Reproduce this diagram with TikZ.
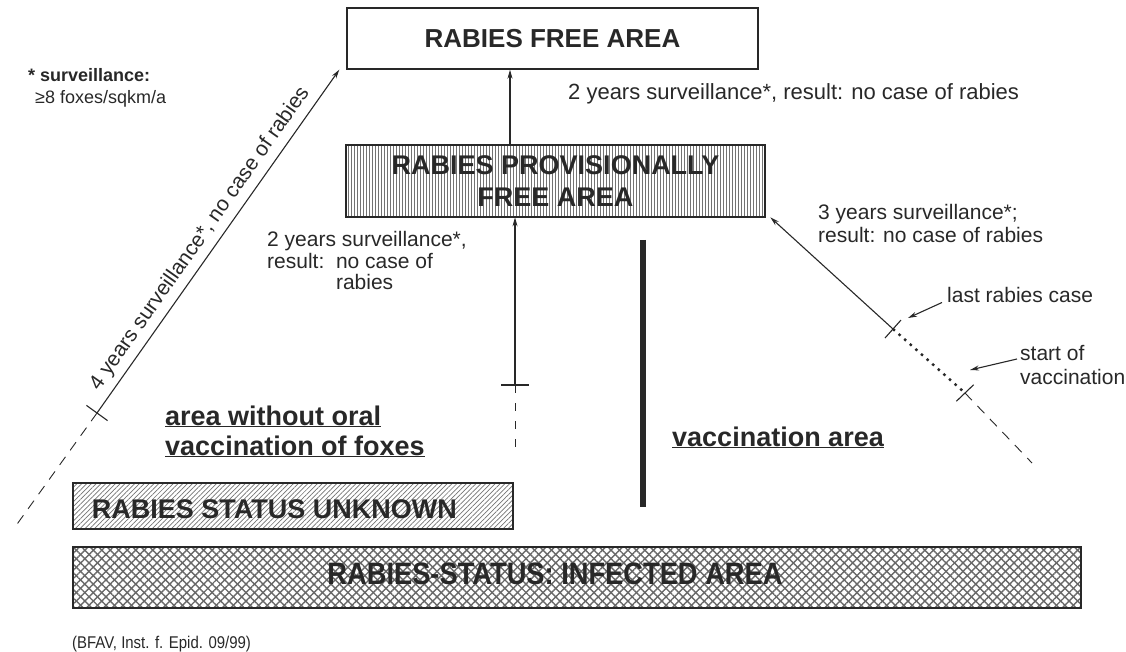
\documentclass[tikz,border=0pt]{standalone}
\usepackage{fontspec}
\setmainfont{Liberation Sans}
\newfontfamily\narrowfont[FakeStretch=0.88]{Liberation Sans}
\usetikzlibrary{arrows.meta,calc,patterns.meta}

\definecolor{RabInk}{RGB}{40,40,40}

\tikzset{
  areabox/.style={draw=RabInk, line width=1.4pt, inner sep=0pt},
  boldlbl/.style={font=\fontsize{27}{30}\selectfont\bfseries, text=RabInk, inner sep=0pt},
  note/.style={font=\fontsize{21}{21.5}\selectfont, text=RabInk, inner sep=0pt},
  arr/.style={-{Stealth[length=9pt,width=5pt]}, line width=1.1pt, draw=RabInk},
  crossmark/.style={line width=1.1pt, draw=RabInk},
  fade/.style={dash pattern=on 10pt off 8pt, line width=0.9pt, draw=RabInk},
}

\begin{document}
\begin{tikzpicture}[x=1pt,y=-1pt]
  \useasboundingbox (0,0) rectangle (1126,652);

  % area boxes
  \node[areabox, minimum width=411pt, minimum height=61pt,
        font=\fontsize{26}{26}\selectfont\bfseries, text=RabInk] (free) at (552.5,38.5) {RABIES FREE AREA};
  \node[areabox, minimum width=419pt, minimum height=72pt, align=center,
        pattern={Lines[angle=90,distance=3pt,line width=0.7pt]}, pattern color=RabInk!65,
        font=\fontsize{27}{32}\selectfont\bfseries, text=RabInk] (prov) at (555.5,181)
        {RABIES PROVISIONALLY\\FREE AREA};
  \node[areabox, minimum width=440pt, minimum height=46pt,
        pattern={Lines[angle=45,distance=3.4pt,line width=0.7pt]}, pattern color=RabInk!65] (unknown) at (293,506) {};
  \node[boldlbl, anchor=west] (unknownTxt) at ([xshift=19pt,yshift=-3pt]unknown.west) {RABIES STATUS UNKNOWN};
  \node[areabox, minimum width=1008pt, minimum height=61pt,
        preaction={pattern={Lines[angle=-45,distance=6pt,line width=1.4pt]}, pattern color=RabInk!70},
        pattern={Lines[angle=45,distance=6pt,line width=1.4pt]}, pattern color=RabInk!70] (infected) at (577,577.5) {};
  \node[font=\narrowfont\fontsize{31}{31}\selectfont\bfseries, text=RabInk, inner sep=0pt] (infectedTxt) at (555,574)
        {RABIES-STATUS: INFECTED AREA};

  % area labels
  \node[boldlbl, anchor=base west] (noVacc) at (165,425) {\underline{area without oral}};
  \node[boldlbl, anchor=base west] (noVaccB) at (165,455) {\underline{vaccination of foxes}};
  \node[boldlbl, anchor=base west] (vaccArea) at (672,446) {\underline{vaccination area}};
  \draw[line width=6pt, RabInk] (643,240) -- (643,507);

  % footnote and source
  \node[anchor=base west, inner sep=0pt, text=RabInk, font=\fontsize{18}{18}\selectfont\bfseries] (starNote) at (28,81.5) {* surveillance:};
  \node[anchor=base west, inner sep=0pt, text=RabInk, font=\fontsize{18}{18}\selectfont] (starNoteB) at (35,103.5) {≥8 foxes/sqkm/a};
  \node[anchor=base west, inner sep=0pt, text=RabInk, font=\narrowfont\fontsize{17}{17}\selectfont] (source) at (72,648) {(BFAV, Inst. f. Epid. 09/99)};

  % provisionally free -> free
  \coordinate (upX) at (510,0);
  \draw[arr] (upX |- prov.north) -- (upX |- free.south);
  \node[note, anchor=base west, font=\fontsize{22}{22}\selectfont] (freeNote) at (568,100) {2 years surveillance*, result: no case of rabies};

  % without vaccination -> free
  \coordinate (leftTick) at (97,413);
  \coordinate (leftEnd) at (15,527);
  \draw[arr] (leftTick) -- ([xshift=-7pt]free.south west)
    node[note, pos=0.48, sloped, above=6pt] (leftNote) {4 years surveillance*, no case of rabies};
  \draw[crossmark] ($(leftTick)!13pt!90:(leftEnd)$) -- ($(leftTick)!13pt!-90:(leftEnd)$);
  \draw[fade] (leftTick) -- (leftEnd);

  % without vaccination -> provisionally free
  \coordinate (midTick) at (515,385);
  \coordinate (midEnd) at (515,447);
  \draw[arr] (midTick) -- (midTick |- prov.south);
  \draw[crossmark] ([xshift=-14pt]midTick) -- ([xshift=14pt]midTick);
  \draw[fade, dash pattern=on 8pt off 10pt] (midTick) -- (midEnd);
  \node[note, anchor=north west, align=left] (provNoteL) at (267,231.5)
    {2 years surveillance*,\\result:\ \ no case of\\\phantom{result:\ \ }rabies};

  % vaccination area -> provisionally free
  \coordinate (lastCase) at (893,329);
  \coordinate (vaccStart) at (965,393);
  \coordinate (rightEnd) at (1032,463);
  \draw[arr] (lastCase) -- ([xshift=5pt]prov.south east);
  \draw[line width=2.4pt, RabInk, dash pattern=on 2.5pt off 5pt] (lastCase) -- (vaccStart);
  \draw[fade] (vaccStart) -- (rightEnd);
  \draw[crossmark] ($(lastCase)!12pt!90:(vaccStart)$) -- ($(lastCase)!12pt!-90:(vaccStart)$);
  \draw[crossmark] ($(vaccStart)!12pt!90:(rightEnd)$) -- ($(vaccStart)!12pt!-90:(rightEnd)$);
  \node[note, anchor=north west, align=left, font=\fontsize{21}{23}\selectfont] (provNoteR) at (818,204)
    {3 years surveillance*;\\result: no case of rabies};
  \node[note, anchor=base west] (lastNote) at (947,302.5) {last rabies case};
  \node[note, anchor=north west, align=left, font=\fontsize{21}{24}\selectfont] (startNote) at (1020,345)
    {start of\\vaccination};
  \coordinate (lastTip) at (908,318);
  \coordinate (startTip) at (970,370);
  \draw[arr] ([xshift=-5pt]lastNote.base west) -- (lastTip);
  \draw[arr] ($(startNote.north west)+(-3,14)$) -- (startTip);
\end{tikzpicture}
\end{document}
